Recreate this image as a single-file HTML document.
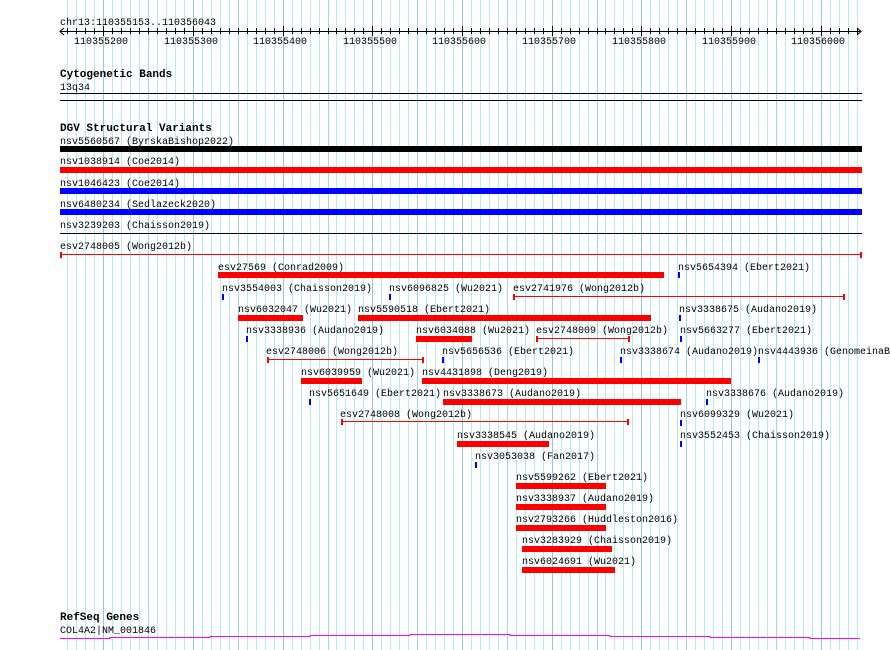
<!DOCTYPE html>
<html><head><style>
html,body{margin:0;padding:0;background:#fff;width:890px;height:650px;overflow:hidden}
svg{display:block}
text{font-family:"Liberation Mono",monospace;font-size:10px;fill:#000}
.b{font-weight:bold;font-size:11px}
</style></head><body>
<svg width="890" height="650" xmlns="http://www.w3.org/2000/svg">
<g id="grid"></g>
<g id="ruler"></g>
<text x="60" y="25">chr13:110355153..110356043</text>
<text x="74" y="44">110355200</text>
<text x="164" y="44">110355300</text>
<text x="253" y="44">110355400</text>
<text x="343" y="44">110355500</text>
<text x="432" y="44">110355600</text>
<text x="522" y="44">110355700</text>
<text x="612" y="44">110355800</text>
<text x="702" y="44">110355900</text>
<text x="791" y="44">110356000</text>
<text class="b" x="60" y="77">Cytogenetic Bands</text>
<text x="60" y="90">13q34</text>
<rect x="60" y="93" width="802" height="1" fill="#000"/>
<rect x="60" y="100" width="802" height="1" fill="#000"/>
<text class="b" x="60" y="131">DGV Structural Variants</text>
<g id="feat"></g>
<text class="b" x="60" y="620">RefSeq Genes</text>
<text x="60" y="633">COL4A2|NM_001846</text>
<path d="M60 638.5H110V637.5H210V636.5H310V635.5H410V634.5H510V635.5H610V636.5H710V637.5H810V638.5H860" stroke="#f0f" stroke-width="1" fill="none"/>
</svg>
<script>
var NS="http://www.w3.org/2000/svg";
function el(p,t,a,txt){var e=document.createElementNS(NS,t);for(var k in a)e.setAttribute(k,a[k]);if(txt)e.textContent=txt;document.getElementById(p).appendChild(e);}
function X(bp){return 193+(bp-300)*0.8967;}
for(var bp=160;bp<=1040;bp+=10){var x=Math.round(X(bp))+0.5;var c=bp%100==0?"#8cc8ec":(bp%50==0?"#9ed8ee":"#b4ecf4");
el("grid","line",{x1:x,y1:0,x2:x,y2:650,stroke:c,"stroke-width":1});
el("ruler","line",{x1:x,y1:bp%100==0?26:28,x2:x,y2:bp%100==0?36:34,stroke:"#000"});}
el("ruler","line",{x1:60,y1:31.5,x2:861,y2:31.5,stroke:"#000"});
el("ruler","path",{d:"M64 28L60 31.5L64 35M857 28L861 31.5L857 35",stroke:"#000",fill:"none"});
function L(x,y,t){el("feat","text",{x:x,y:y+4},t);}
function B(x1,x2,y,c){el("feat","rect",{x:x1,y:y,width:x2-x1,height:6,fill:c||"#f00"});}
function T(x,y){el("feat","rect",{x:x,y:y,width:2,height:6,fill:"#00f"});}
function R(x1,x2,y){el("feat","line",{x1:x1,y1:y+0.5,x2:x2,y2:y+0.5,stroke:"#f00"});el("feat","rect",{x:x1,y:y-2,width:2,height:6,fill:"#f00"});el("feat","rect",{x:x2-1,y:y-2,width:2,height:6,fill:"#f00"});}
L(60,140,"nsv5560567 (ByrskaBishop2022)");B(60,862,146,"#000");
L(60,160,"nsv1038914 (Coe2014)");B(60,862,167);
L(60,182,"nsv1046423 (Coe2014)");B(60,862,188,"#00f");
L(60,203,"nsv6480234 (Sedlazeck2020)");B(60,862,209,"#00f");
L(60,224,"nsv3239203 (Chaisson2019)");el("feat","rect",{x:60,y:233,width:802,height:1,fill:"#000"});
L(60,245,"esv2748005 (Wong2012b)");R(60,861,254);
L(218,266,"esv27569 (Conrad2009)");B(218,664,272);L(678,266,"nsv5654394 (Ebert2021)");T(678,272);
L(222,287,"nsv3554003 (Chaisson2019)");T(222,294);L(389,287,"nsv6096825 (Wu2021)");T(389,294);L(513,287,"esv2741976 (Wong2012b)");R(513,844,296);
L(238,308,"nsv6032047 (Wu2021)");B(238,303,315);L(358,308,"nsv5590518 (Ebert2021)");B(358,651,315);L(679,308,"nsv3338675 (Audano2019)");T(679,315);
L(246,329,"nsv3338936 (Audano2019)");T(246,336);L(416,329,"nsv6034088 (Wu2021)");B(416,472,336);L(536,329,"esv2748009 (Wong2012b)");R(536,629,338);L(680,329,"nsv5663277 (Ebert2021)");T(680,336);
L(266,350,"esv2748006 (Wong2012b)");R(267,423,359);L(442,350,"nsv5656536 (Ebert2021)");T(442,357);L(620,350,"nsv3338674 (Audano2019)");T(620,357);L(758,350,"nsv4443936 (GenomeinaBottle");T(758,357);
L(301,371,"nsv6039959 (Wu2021)");B(301,362,378);L(422,371,"nsv4431898 (Deng2019)");B(422,731,378);
L(309,392,"nsv5651649 (Ebert2021)");T(309,399);L(443,392,"nsv3338673 (Audano2019)");B(443,681,399);L(706,392,"nsv3338676 (Audano2019)");T(706,399);
L(340,413,"esv2748008 (Wong2012b)");R(341,628,421);L(680,413,"nsv6099329 (Wu2021)");T(680,420);
L(457,434,"nsv3338545 (Audano2019)");B(457,549,441);L(680,434,"nsv3552453 (Chaisson2019)");T(680,441);
L(475,455,"nsv3053038 (Fan2017)");T(475,462);
L(516,476,"nsv5599262 (Ebert2021)");B(516,606,483);
L(516,497,"nsv3338937 (Audano2019)");B(516,606,504);
L(516,518,"nsv2793266 (Huddleston2016)");B(516,606,525);
L(522,539,"nsv3283929 (Chaisson2019)");B(522,612,546);
L(522,560,"nsv6024691 (Wu2021)");B(522,615,567);
</script>
</body></html>
